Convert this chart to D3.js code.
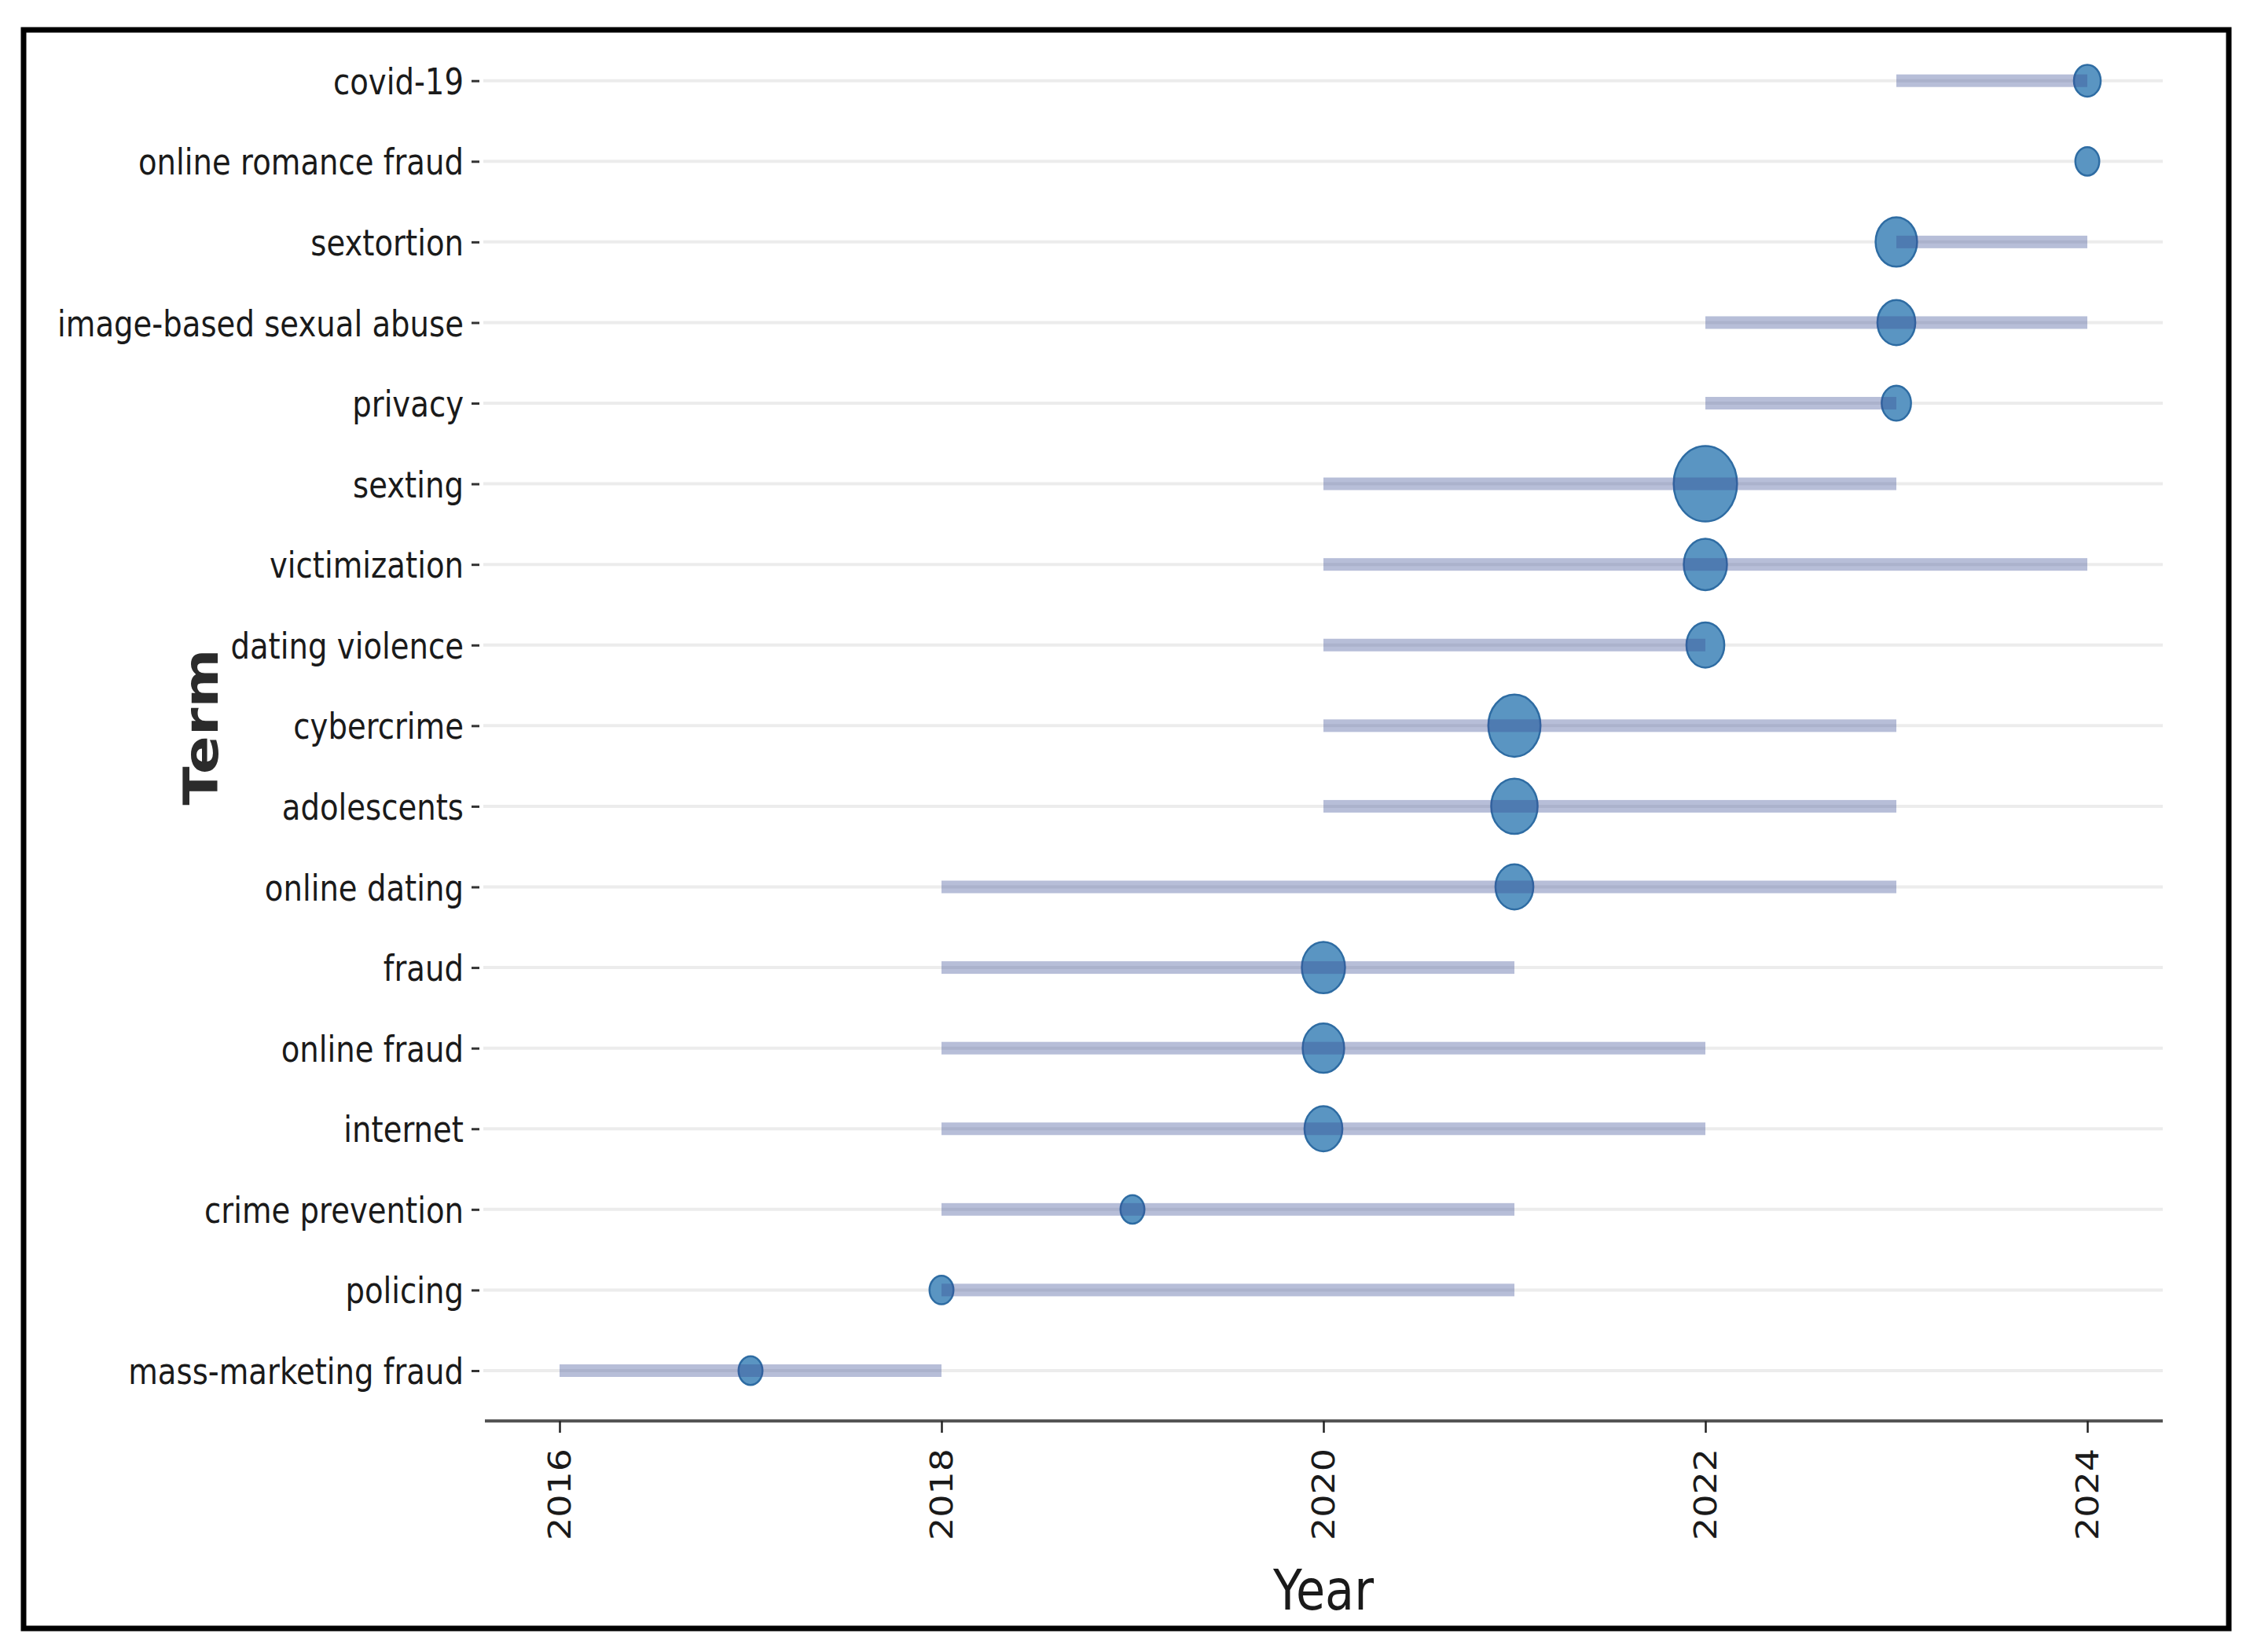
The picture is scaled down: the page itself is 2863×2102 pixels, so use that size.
<!DOCTYPE html>
<html>
<head>
<meta charset="utf-8">
<script src="https://cdn.jsdelivr.net/npm/d3@7"></script>
<style>
  body { margin: 0; background: #fff; }
  svg { display: block; font-family: 'DejaVu Sans', sans-serif; }
</style>
</head>
<body>
<div class="chart"></div>
<script>
// Data
const terms = [
  'covid-19', 'online romance fraud', 'sextortion', 'image-based sexual abuse',
  'privacy', 'sexting', 'victimization', 'dating violence', 'cybercrime',
  'adolescents', 'online dating', 'fraud', 'online fraud', 'internet',
  'crime prevention', 'policing', 'mass-marketing fraud'
];
const yearStart = [2023, 2024, 2023, 2022, 2022, 2020, 2020, 2020, 2020, 2020, 2018, 2018, 2018, 2018, 2018, 2018, 2016];
const yearPeak  = [2024, 2024, 2023, 2023, 2023, 2022, 2022, 2022, 2021, 2021, 2021, 2020, 2020, 2020, 2019, 2018, 2017];
const yearEnd   = [2024, 2024, 2024, 2024, 2023, 2023, 2024, 2022, 2023, 2023, 2023, 2021, 2022, 2022, 2021, 2021, 2018];
const freq      = [5, 4, 12, 10, 6, 28, 13, 10, 19, 15, 10, 13, 12, 10, 4, 4, 4];
const yearTicks = [2016, 2018, 2020, 2022, 2024];

const rows = terms.map((t, i) => ({
  term: t, start: yearStart[i], peak: yearPeak[i], end: yearEnd[i], freq: freq[i]
}));

// the picture is squeezed sideways, so round marks and glyphs get narrower
const sx = 0.84;
const w = 2863;
const h = 2102;
const plotLeft = 617;
const plotRight = 2752;
const axisY = 1808;

const svg = d3.select('.chart')
  .append('svg')
  .attr('width', w)
  .attr('height', h);

svg.append('rect')
  .attr('width', w).attr('height', h)
  .attr('fill', '#fff');

const xScale = d3.scaleLinear().domain([2016, 2024]).range([712, 2656]);
const yScale = d3.scalePoint().domain(terms).range([102.7, 1744]);
const rScale = d3.scaleSqrt().domain([0, d3.max(freq)]).range([0, 48]);

// Grid lines
svg.append('g')
  .selectAll('line')
  .data(terms)
  .join('line')
  .attr('x1', plotLeft - 2)
  .attr('x2', plotRight)
  .attr('y1', (d) => yScale(d))
  .attr('y2', (d) => yScale(d))
  .attr('stroke', '#ececec')
  .attr('stroke-width', 4);

// Dots
svg.append('g')
  .selectAll('ellipse')
  .data(rows)
  .join('ellipse')
  .attr('cx', (d) => xScale(d.peak))
  .attr('cy', (d) => yScale(d.term))
  .attr('rx', (d) => rScale(d.freq) * sx)
  .attr('ry', (d) => rScale(d.freq))
  .attr('fill', '#5a95c2')
  .attr('stroke', '#2e6ca3')
  .attr('stroke-width', 2.5);

// Range bars
svg.append('g')
  .selectAll('rect')
  .data(rows.filter((d) => d.end > d.start))
  .join('rect')
  .attr('x', (d) => xScale(d.start))
  .attr('y', (d) => yScale(d.term) - 8)
  .attr('width', (d) => xScale(d.end) - xScale(d.start))
  .attr('height', 16)
  .attr('fill', 'rgba(60,80,150,0.37)');

// Y axis
const yAxis = d3.axisLeft(yScale).tickSize(10).tickPadding(0);
const yAxisG = svg.append('g')
  .attr('transform', 'translate(610,0)')
  .call(yAxis);
yAxisG.select('.domain').remove();
yAxisG.selectAll('.tick line').attr('stroke', '#333').attr('stroke-width', 3);
yAxisG.selectAll('.tick text')
  .attr('x', -20 / sx)
  .attr('dy', '0.36em')
  .attr('transform', `scale(${sx},1)`)
  .attr('fill', '#1a1a1a')
  .style('font-size', '46px')
  .style('font-family', 'DejaVu Sans');

// X axis
svg.append('line')
  .attr('x1', plotLeft).attr('x2', plotRight)
  .attr('y1', axisY).attr('y2', axisY)
  .attr('stroke', '#555').attr('stroke-width', 4);

const xAxis = d3.axisBottom(xScale)
  .tickValues(yearTicks)
  .tickFormat(d3.format('d'))
  .tickSize(15);
const xAxisG = svg.append('g')
  .attr('transform', `translate(0,${axisY})`)
  .call(xAxis);
xAxisG.select('.domain').remove();
xAxisG.selectAll('.tick line').attr('stroke', '#222').attr('stroke-width', 2.5);
xAxisG.selectAll('.tick text')
  .attr('x', -35)
  .attr('y', 0)
  .attr('dy', '0.35em')
  .attr('text-anchor', 'end')
  .attr('transform', `scale(${sx},1) rotate(-90)`)
  .attr('fill', '#1a1a1a')
  .style('font-size', '46px')
  .style('font-family', 'DejaVu Sans');

// Axis titles
svg.append('text')
  .attr('transform', `translate(1684,2048) scale(${sx},1)`)
  .attr('text-anchor', 'middle')
  .attr('fill', '#1a1a1a')
  .style('font-size', '72px')
  .text('Year');

svg.append('text')
  .attr('transform', `translate(277,925) scale(${sx},1) rotate(-90)`)
  .attr('text-anchor', 'middle')
  .attr('fill', '#2b2b2b')
  .style('font-size', '72px')
  .style('font-weight', 'bold')
  .text('Term');

// Frame
svg.append('rect')
  .attr('x', 30).attr('y', 38)
  .attr('width', 2806).attr('height', 2034)
  .attr('fill', 'none')
  .attr('stroke', '#000')
  .attr('stroke-width', 7);
</script>
</body>
</html>
